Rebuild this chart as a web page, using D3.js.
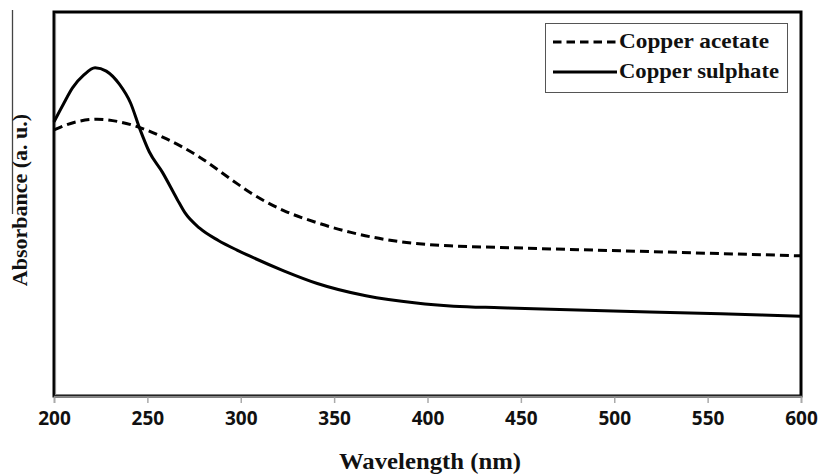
<!DOCTYPE html>
<html lang="en">
<head>
    <meta charset="UTF-8">
    <title>Absorbance spectra</title>
    <script src="https://d3js.org/d3.v7.min.js"></script>
    <style>
        body { margin: 0; background: #fff; }
        .tick-label { font: bold 19px "Open Sans", sans-serif; fill: #111; }
        .title { font-family: "Liberation Serif", "Times New Roman", serif; font-weight: bold; fill: #111; }
    </style>
</head>
<body>
    <svg width="821" height="474"></svg>
    <script>
        // wavelength (nm) and absorbance (a. u.)
        const acetateWl  = [200, 212, 223, 235, 246, 260, 278, 296, 305, 323, 341, 359, 385, 412, 439, 466, 519, 600];
        const acetateAbs = [0.693, 0.714, 0.721, 0.714, 0.699, 0.670, 0.622, 0.560, 0.530, 0.483, 0.451, 0.426, 0.402, 0.391, 0.387, 0.383, 0.376, 0.365];

        const sulphateWl  = [200, 205, 210, 216, 222, 228, 235, 241, 246, 251, 258, 266, 270, 278, 288, 298, 305, 323, 341, 367, 394, 414, 439, 466, 519, 557, 600];
        const sulphateAbs = [0.714, 0.760, 0.803, 0.836, 0.855, 0.846, 0.812, 0.763, 0.695, 0.636, 0.583, 0.512, 0.478, 0.437, 0.405, 0.380, 0.364, 0.326, 0.293, 0.261, 0.242, 0.234, 0.230, 0.226, 0.219, 0.214, 0.208];

        const xTicks = [200, 250, 300, 350, 400, 450, 500, 550, 600];
        const seriesNames = ["Copper acetate", "Copper sulphate"];

        const svg = d3.select("svg");
        const plotL = 54, plotR = 801, plotT = 12, plotB = 396;

        const x = d3.scaleLinear().domain([200, 600]).range([plotL, plotR]);
        const y = d3.scaleLinear().domain([0, 1]).range([plotB, plotT]);

        // stray border line at the far left of the scan
        svg.append("line")
            .attr("x1", 12.5).attr("x2", 12.5)
            .attr("y1", 10).attr("y2", 214)
            .attr("stroke", "#444").attr("stroke-width", 1.3);

        // plot frame
        svg.append("rect")
            .attr("x", plotL).attr("y", plotT)
            .attr("width", plotR - plotL).attr("height", plotB - plotT)
            .attr("fill", "none").attr("stroke", "#000").attr("stroke-width", 3);

        // x axis
        const xAxis = svg.append("g")
            .attr("transform", `translate(0,${plotB})`)
            .call(d3.axisBottom(x).tickValues(xTicks).tickSize(7).tickPadding(9).tickFormat(d3.format("d")));
        xAxis.select(".domain").attr("stroke", "#888").attr("stroke-width", 1.5);
        xAxis.selectAll(".tick line").attr("stroke", "#aaa").attr("stroke-width", 1.5)
            .attr("y1", 1.5);
        xAxis.selectAll(".tick text").attr("class", "tick-label").attr("dy", "0.71em");

        // inner grey edge of the left axis
        svg.append("line")
            .attr("x1", plotL + 1.5).attr("x2", plotL + 1.5)
            .attr("y1", plotT + 1.5).attr("y2", plotB - 1)
            .attr("stroke", "#888").attr("stroke-width", 1.2);

        const line = d3.line().curve(d3.curveMonotoneX);

        svg.append("path")
            .datum(acetateWl.map((w, i) => [x(w), y(acetateAbs[i])]))
            .attr("d", line)
            .attr("fill", "none").attr("stroke", "#000")
            .attr("stroke-width", 3).attr("stroke-dasharray", "9,5");

        svg.append("path")
            .datum(sulphateWl.map((w, i) => [x(w), y(sulphateAbs[i])]))
            .attr("d", line)
            .attr("fill", "none").attr("stroke", "#000")
            .attr("stroke-width", 3);

        // axis titles
        svg.append("text").attr("class", "title")
            .attr("x", 430).attr("y", 469)
            .attr("text-anchor", "middle")
            .style("font-size", "23px")
            .attr("textLength", 182).attr("lengthAdjust", "spacingAndGlyphs")
            .text("Wavelength (nm)");

        svg.append("text").attr("class", "title")
            .attr("transform", "translate(27,200) rotate(-90)")
            .attr("text-anchor", "middle")
            .style("font-size", "22px")
            .text("Absorbance (a. u.)");

        // legend
        const legend = svg.append("g");
        legend.append("rect")
            .attr("x", 545.5).attr("y", 23.5)
            .attr("width", 242).attr("height", 69)
            .attr("fill", "#fff").attr("stroke", "#555").attr("stroke-width", 1);

        seriesNames.forEach((name, i) => {
            const ly = 42 + i * 30;
            legend.append("line")
                .attr("x1", 553).attr("x2", 617)
                .attr("y1", ly).attr("y2", ly)
                .attr("stroke", "#000").attr("stroke-width", 3)
                .attr("stroke-dasharray", i === 0 ? "8.5,5" : null);
            legend.append("text").attr("class", "title")
                .attr("x", 619).attr("y", ly + 5.5)
                .style("font-size", "21px")
                .attr("textLength", i === 0 ? 150 : 160).attr("lengthAdjust", "spacingAndGlyphs")
                .text(name);
        });
    </script>
</body>
</html>
